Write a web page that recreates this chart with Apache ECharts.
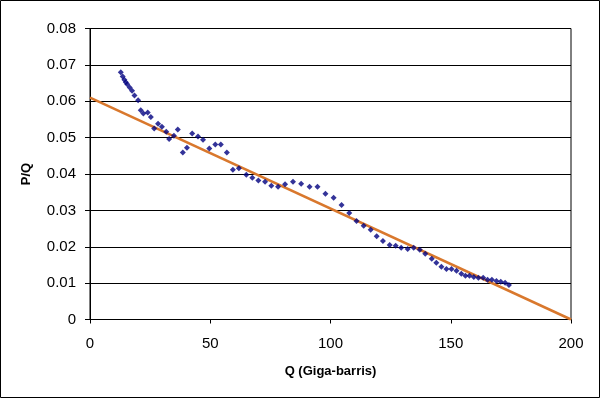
<!DOCTYPE html>
<html>
<head>
<meta charset="utf-8">
<script src="https://cdn.jsdelivr.net/npm/echarts@6/dist/echarts.min.js"></script>
<style>
html,body{margin:0;padding:0;background:#fff;}
#chart{width:601px;height:399px;}
</style>
</head>
<body>
<div id="chart"></div>
<script>
var qValues = [12.8,13.6,14.3,14.9,15.5,16.5,17.5,18.5,20.0,21.1,22.2,24.0,25.3,26.7,28.3,29.9,31.7,32.9,34.9,36.5,38.6,40.3,42.5,44.9,47.0,49.6,52.1,54.4,56.9,59.4,61.9,65.0,67.5,70.0,72.8,75.4,78.2,81.1,84.4,87.8,91.3,94.6,97.9,101.3,104.6,107.8,110.8,113.8,116.7,119.2,121.8,124.6,127.1,129.4,132.1,134.6,137.1,139.4,142.1,144.0,146.1,148.2,150.3,152.4,154.4,156.1,157.8,159.6,161.5,163.5,165.3,167.1,169.0,170.8,172.6,174.2];
var pqValues = [0.0680,0.0668,0.0659,0.0652,0.0647,0.0638,0.0629,0.0616,0.0603,0.0575,0.0566,0.0569,0.0557,0.0525,0.0538,0.0530,0.0516,0.0496,0.0505,0.0522,0.0459,0.0472,0.0511,0.0503,0.0494,0.0470,0.0481,0.0481,0.0459,0.0412,0.0416,0.0398,0.0390,0.0382,0.0379,0.0368,0.0365,0.0372,0.0379,0.0373,0.0365,0.0365,0.0346,0.0335,0.0315,0.0293,0.0271,0.0258,0.0247,0.0229,0.0216,0.0205,0.0203,0.0197,0.0194,0.0197,0.0192,0.0181,0.0167,0.0156,0.0145,0.0139,0.0139,0.0134,0.0126,0.0120,0.0120,0.0117,0.0115,0.0115,0.0109,0.0109,0.0106,0.0104,0.0101,0.0095];
var trendQ = [0, 200];
var trendPQ = [0.061, 0];
var yTicks = ['0','0.01','0.02','0.03','0.04','0.05','0.06','0.07','0.08'];
var xTitle = 'Q (Giga-barris)';
var yTitle = 'P/Q';

var scatterData = qValues.map(function(q,i){return [q,pqValues[i]];});
var trendData = trendQ.map(function(q,i){return [q,trendPQ[i]];});
var font = '"Liberation Sans", Arial, sans-serif';

var chart = echarts.init(document.getElementById('chart'), null, {renderer:'canvas'});
chart.setOption({
  animation:false,
  backgroundColor:'#ffffff',
  graphic:[{type:'rect',shape:{x:0.5,y:0.5,width:599,height:397},style:{fill:null,stroke:'#000',lineWidth:1},silent:true}],
  grid:{left:90,right:30,top:28.5,bottom:79.5,show:true,borderColor:'#000',borderWidth:1,backgroundColor:'#fff'},
  xAxis:{
    type:'value',min:0,max:200,interval:50,
    name:xTitle,nameLocation:'middle',nameGap:45,
    nameTextStyle:{fontFamily:font,fontSize:13,fontWeight:'bold',color:'#000'},
    axisLine:{show:true,lineStyle:{color:'#000',width:1}},
    axisTick:{show:true,inside:false,length:4,lineStyle:{color:'#000'}},
    axisLabel:{color:'#000',fontFamily:font,fontSize:15,margin:17},
    splitLine:{show:false}
  },
  yAxis:{
    type:'value',min:0,max:0.08,interval:0.01,
    name:yTitle,nameLocation:'middle',nameGap:57,nameRotate:90,
    nameTextStyle:{fontFamily:font,fontSize:13,fontWeight:'bold',color:'#000'},
    axisLine:{show:true,lineStyle:{color:'#000',width:1}},
    axisTick:{show:true,inside:false,length:5,lineStyle:{color:'#000'}},
    axisLabel:{color:'#000',fontFamily:font,fontSize:15,margin:14,
      formatter:function(v){var i=Math.round(v/0.01);return yTicks[i]!==undefined?yTicks[i]:'';}},
    splitLine:{show:true,lineStyle:{color:'#000',width:1}}
  },
  series:[
    {type:'line',data:trendData,showSymbol:false,symbol:'none',clip:true,
     lineStyle:{color:'#D9782D',width:2.5},z:2},
    {type:'scatter',data:scatterData,symbol:'diamond',symbolSize:6,
     itemStyle:{color:'#000080'},z:3}
  ]
});
</script>
</body>
</html>
